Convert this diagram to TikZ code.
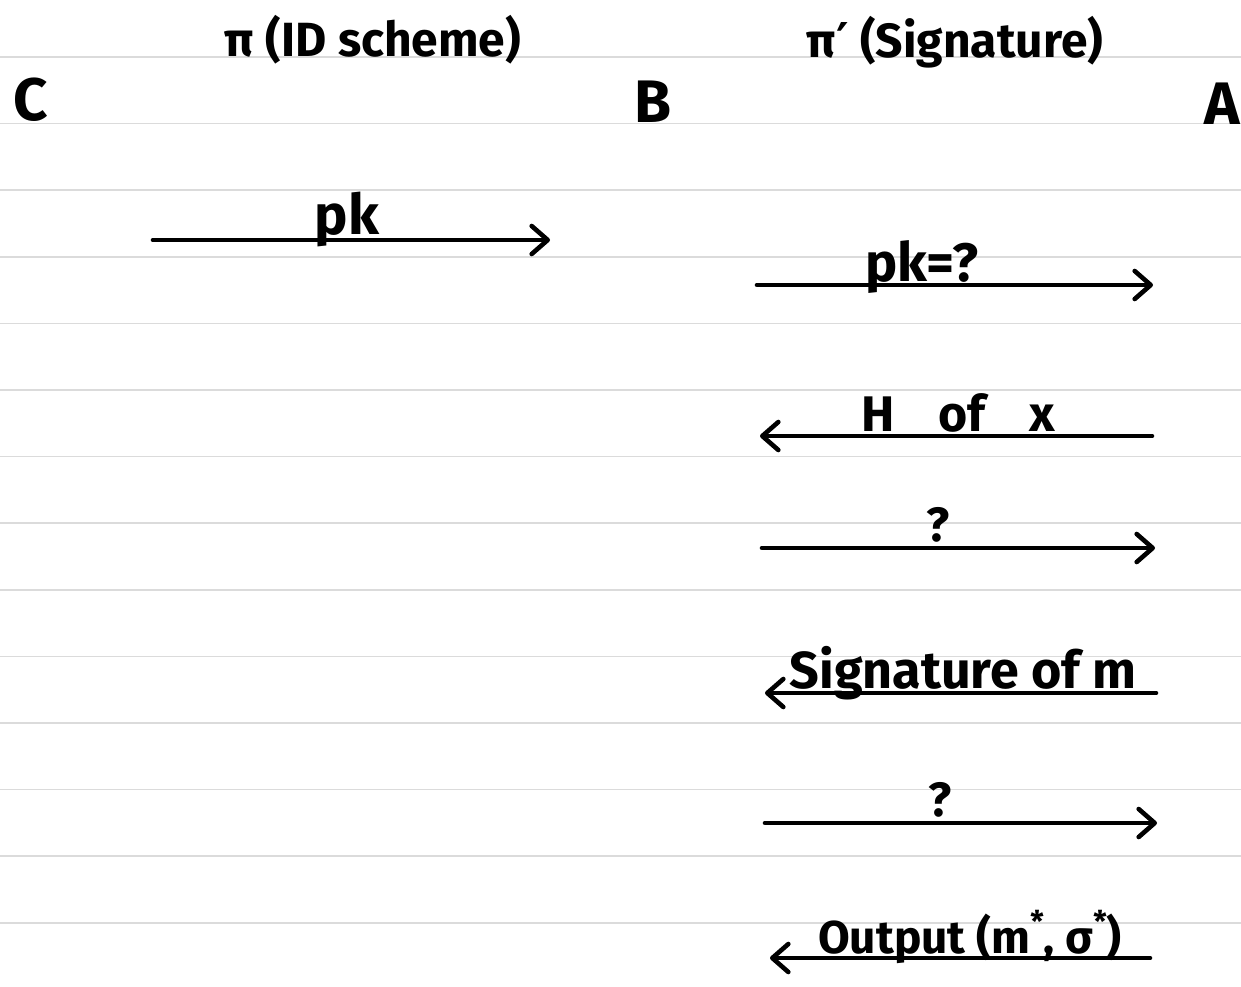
\documentclass[tikz,border=0pt]{standalone}
\usepackage{fontspec}
\setmainfont{Fira Sans}
\newfontfamily\primefont{DejaVu Sans}
\usetikzlibrary{arrows.meta}
\newcommand\starup{\raisebox{0.45em}{\fontsize{30}{30}\selectfont *}}
\tikzset{
  rule/.style={draw=black!14, line width=1.6pt},
  msg/.style={line width=4.6pt, line cap=round, -{Straight Barb[length=16pt,width=28pt,round]}},
  lbl/.style={font=\fontsize{48}{48}\selectfont\bfseries, inner sep=0pt, anchor=base},
  party/.style={font=\fontsize{60}{60}\selectfont\bfseries, inner sep=0pt},
  ttl/.style={font=\fontsize{48}{48}\selectfont\bfseries, inner sep=0pt}
}
\begin{document}
\begin{tikzpicture}[x=1pt,y=-1pt]
\fill[white] (0,0) rectangle (1241,986);
\useasboundingbox (0,0) rectangle (1241,986);
% ruled lines
\foreach \k in {0,...,13} {
  \draw[rule] (0,{57+66.6*\k}) -- (1241,{57+66.6*\k});
}
% titles
\node[ttl] (t1) at (373,40) {π (ID scheme)};
\node[ttl] (t2) at (955,42) {π{\primefont ′} (Signature)};
% parties
\node[party] (C) at (31,100) {C};
\node[party] (B) at (653,102) {B};
\node[party] (A) at (1222,104) {A};
% messages
\coordinate (m1s) at (153,240); \coordinate (m1e) at (550,240);
\draw[msg] (m1s) -- (m1e);
\node[lbl, font=\fontsize{56}{56}\selectfont\bfseries] (l1) at (347,234) {pk};

\coordinate (m2s) at (757,285); \coordinate (m2e) at (1153,285);
\draw[msg] (m2s) -- (m2e);
\node[lbl, font=\fontsize{54}{54}\selectfont\bfseries] (l2) at (922,281) {pk=?};

\coordinate (m3s) at (1152,436); \coordinate (m3e) at (760,436);
\draw[msg] (m3s) -- (m3e);
\node[lbl, font=\fontsize{50}{50}\selectfont\bfseries] (l3) at (958,431) {H\hspace{44pt}of\hspace{44pt}x};

\coordinate (m4s) at (762,548); \coordinate (m4e) at (1155,548);
\draw[msg] (m4s) -- (m4e);
\node[lbl] (l4) at (938,541) {?};

\coordinate (m5s) at (1156,693); \coordinate (m5e) at (765,693);
\draw[msg] (m5s) -- (m5e);
\node[lbl, font=\fontsize{52}{52}\selectfont\bfseries] (l5) at (963,688) {Signature of m};

\coordinate (m6s) at (765,823); \coordinate (m6e) at (1157,823);
\draw[msg] (m6s) -- (m6e);
\node[lbl] (l6) at (940,816) {?};

\coordinate (m7s) at (1150,958); \coordinate (m7e) at (770,958);
\draw[msg] (m7s) -- (m7e);
\node[lbl, font=\fontsize{46}{46}\selectfont\bfseries] (l7) at (970,953) {Output (m\starup, σ\starup)};
\end{tikzpicture}
\end{document}
